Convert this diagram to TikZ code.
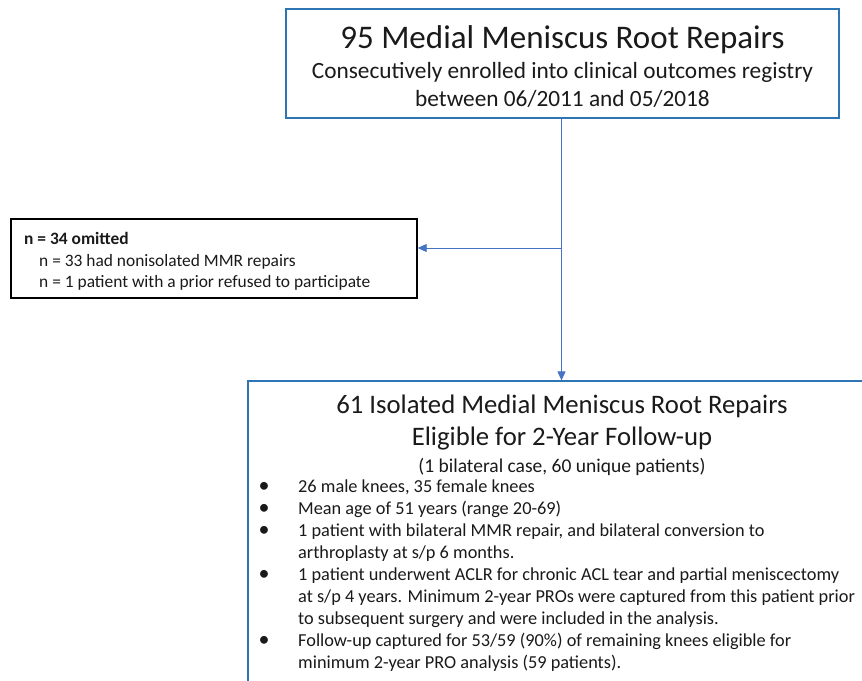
\documentclass[tikz,border=0pt]{standalone}
\usepackage{fontspec}
\setmainfont{Carlito}
\usetikzlibrary{arrows.meta}
\definecolor{boxblue}{HTML}{2E75B6}
\definecolor{linkblue}{HTML}{4472C4}
\definecolor{ink}{HTML}{1A1A1A}
\begin{document}
\begin{tikzpicture}[x=1pt,y=-1pt,
  bluebox/.style={draw=boxblue,line width=1.2pt,rectangle,inner sep=0pt},
  blackbox/.style={draw=black,line width=1.4pt,rectangle,inner sep=0pt},
  txt/.style={anchor=base,inner sep=0pt,text=ink},
  ltxt/.style={anchor=base west,inner sep=0pt,text=ink},
  conn/.style={draw=linkblue,line width=0.9pt,-{Triangle[length=9pt,width=8pt]}},
  fA/.style={font=\fontsize{33}{40}\selectfont},
  fB/.style={font=\fontsize{23.3}{28}\selectfont},
  fC/.style={font=\fontsize{26.7}{32}\selectfont},
  fD/.style={font=\fontsize{19.5}{24}\selectfont},
  fE/.style={font=\fontsize{18.3}{22}\selectfont},
  fF/.style={font=\fontsize{17.4}{21}\selectfont},
  fFb/.style={font=\fontsize{17.4}{21}\selectfont\bfseries},
  fBul/.style={font=\fontsize{22}{22}\selectfont}]
\useasboundingbox (0,0) rectangle (862,680);
\clip (0,0) rectangle (862,680);
\fill[white] (0,0) rectangle (862,680);
% boxes
\node[bluebox, minimum width=553pt, minimum height=109pt] (top) at (562.5,63.5) {};
\node[blackbox, minimum width=406pt, minimum height=79pt] (left) at (214,258.5) {};
\node[bluebox, minimum width=628pt, minimum height=339pt] (bot) at (562,550.5) {};
% top texts
\node[txt,fA] (t1) at (562.5,48) {95 Medial Meniscus Root Repairs};
\node[txt,fB] (t2) at (562.5,78) {Consecutively enrolled into clinical outcomes registry};
\node[txt,fB] (t3) at (562.5,106) {between 06/2011 and 05/2018};
% left texts
\node[ltxt,fFb] (l1) at (24,244) {n = 34 omitted};
\node[ltxt,fF] (l2) at (39,266) {n = 33 had nonisolated MMR repairs};
\node[ltxt,fF] (l3) at (39,287) {n = 1 patient with a prior refused to participate};
% bottom texts
\node[txt,fC] (b1) at (562,413) {61 Isolated Medial Meniscus Root Repairs};
\node[txt,fC] (b2) at (562,445) {Eligible for 2-Year Follow-up};
\node[txt,fD] (b3) at (562,472) {(1 bilateral case, 60 unique patients)};
\foreach \i/\yy in {1/492,2/514,3/536,5/580,8/646}{
  \node[txt,fBul] (bu\i) at (264,\yy) {•};
}
\node[ltxt,fE] (c1) at (298,492) {26 male knees, 35 female knees};
\node[ltxt,fE] (c2) at (298,514) {Mean age of 51 years (range 20-69)};
\node[ltxt,fE] (c3) at (298,536) {1 patient with bilateral MMR repair, and bilateral conversion to};
\node[ltxt,fE] (c4) at (298,558) {arthroplasty at s/p 6 months.};
\node[ltxt,fE] (c5) at (298,580) {1 patient underwent ACLR for chronic ACL tear and partial meniscectomy};
\node[ltxt,fE] (c6) at (298,602) {at s/p 4 years. Minimum 2-year PROs were captured from this patient prior};
\node[ltxt,fE] (c7) at (298,624) {to subsequent surgery and were included in the analysis.};
\node[ltxt,fE] (c8) at (298,646) {Follow-up captured for 53/59 (90\%) of remaining knees eligible for};
\node[ltxt,fE] (c9) at (298,668) {minimum 2-year PRO analysis (59 patients).};
% connectors
\coordinate (j) at (561.5,248);
\draw[conn] (top.south -| j) -- (j |- bot.north);
\draw[conn] (j) -- (j -| left.east);
\end{tikzpicture}
\end{document}
